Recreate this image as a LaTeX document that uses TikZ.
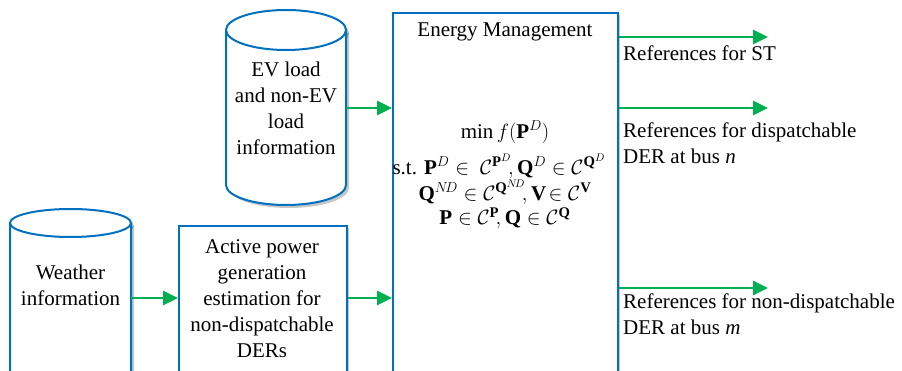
\documentclass[tikz,border=0pt]{standalone}
\usepackage{amsmath}
\usepackage{fontspec}
\setmainfont{Liberation Serif}
\usetikzlibrary{arrows.meta}
\definecolor{bbl}{RGB}{0,112,192}
\definecolor{grn}{RGB}{0,176,80}
\newcommand\mycylpath[5]{({#1-#2},#3) -- ({#1-#2},#4) .. controls ({#1-#2},{#4+0.5523*#5}) and ({#1-0.5523*#2},{#4+#5}) .. (#1,{#4+#5}) .. controls ({#1+0.5523*#2},{#4+#5}) and ({#1+#2},{#4+0.5523*#5}) .. ({#1+#2},#4) -- ({#1+#2},#3)}
\begin{document}
\begin{tikzpicture}[x=1pt,y=-1pt,
  font=\fontsize{21}{26}\selectfont,
  bline/.style={draw=bbl,line width=2pt},
  shd/.style={fill=black,opacity=0.22},
  flow/.style={draw=grn,line width=2.6pt,-{Triangle[length=15pt,width=14pt]}},
  txt/.style={align=center,inner sep=0pt}]
\useasboundingbox (0,0) rectangle (902,371);
\clip (0,0) rectangle (902,371);
\fill[white] (0,0) rectangle (902,371);

% EV load cylinder
\fill[shd,shift={(3,3)}] \mycylpath{286}{60}{30}{185}{20} -- cycle;
\fill[shd] (289,33) ellipse [x radius=60, y radius=20];
\fill[white] \mycylpath{286}{60}{30}{185}{20} -- cycle;
\draw[bline] \mycylpath{286}{60}{30}{185}{20};
\draw[bline,fill=white] (286,30) ellipse [x radius=60, y radius=20];
\node[txt,minimum width=120pt] (ev) at (286,108) {EV load\\and non-EV\\load\\information};

% Weather cylinder
\fill[shd,shift={(3,3)}] \mycylpath{70.5}{60.5}{223}{430}{14} -- cycle;
\fill[shd] (73.5,226) ellipse [x radius=60.5, y radius=14];
\fill[white] \mycylpath{70.5}{60.5}{223}{430}{14} -- cycle;
\draw[bline] \mycylpath{70.5}{60.5}{223}{430}{14};
\draw[bline,fill=white] (70.5,223) ellipse [x radius=60.5, y radius=14];
\node[txt,minimum width=121pt] (wx) at (70.5,285) {Weather\\information};

% Active power estimation box
\fill[shd] (181,228) rectangle (349,460);
\node[bline,fill=white,minimum width=168pt,minimum height=230pt,anchor=north west,inner sep=0pt] (act) at (178,225) {};
\node[txt] (acttxt) at (262,299) {Active power\\generation\\estimation for\\non-dispatchable\\DERs};

% Energy management box
\fill[shd] (395,15) rectangle (620,460);
\node[bline,fill=white,minimum width=225pt,minimum height=440pt,anchor=north west,inner sep=0pt] (em) at (392,12) {};
\node[txt] (emt) at (505,32) {Energy Management};
\node[txt] (m1) at (505,132) {$\min f(\mathbf{P}^{D})$};
\node[txt] (m2) at (499,166) {s.t. $\mathbf{P}^{D}\in\ \mathcal{C}^{\mathbf{P}^{D}}\!,\mathbf{Q}^{D}\in\mathcal{C}^{\mathbf{Q}^{D}}$};
\node[txt] (m3) at (505,192) {$\mathbf{Q}^{N\!D}\in\mathcal{C}^{\mathbf{Q}^{N\!D}}\!,\mathbf{V}\!\in\mathcal{C}^{\mathbf{V}}$};
\node[txt] (m4) at (505,218) {$\mathbf{P}\in\mathcal{C}^{\mathbf{P}}\!,\mathbf{Q}\in\mathcal{C}^{\mathbf{Q}}$};

% input arrows
\draw[flow] (ev.east) -- (em.west |- ev.east);
\draw[flow] (wx.east |- 0,298) -- (act.west |- 0,298);
\draw[flow] (act.east |- 0,298) -- (em.west |- 0,298);

% outputs
\coordinate (o1) at (768,37);
\coordinate (o2) at (768,108);
\coordinate (o3) at (768,288);
\draw[flow] (em.east |- o1) -- (o1);
\draw[flow] (em.east |- o2) -- (o2);
\draw[flow] (em.east |- o3) -- (o3);
\node[txt,anchor=west,align=left] (r1) at (623,53) {References for ST};
\node[txt,anchor=west,align=left] (r2) at (623,143) {References for dispatchable\\DER at bus \textit{n}};
\node[txt,anchor=west,align=left] (r3) at (623,314) {References for non-dispatchable\\DER at bus \textit{m}};
\end{tikzpicture}
\end{document}
